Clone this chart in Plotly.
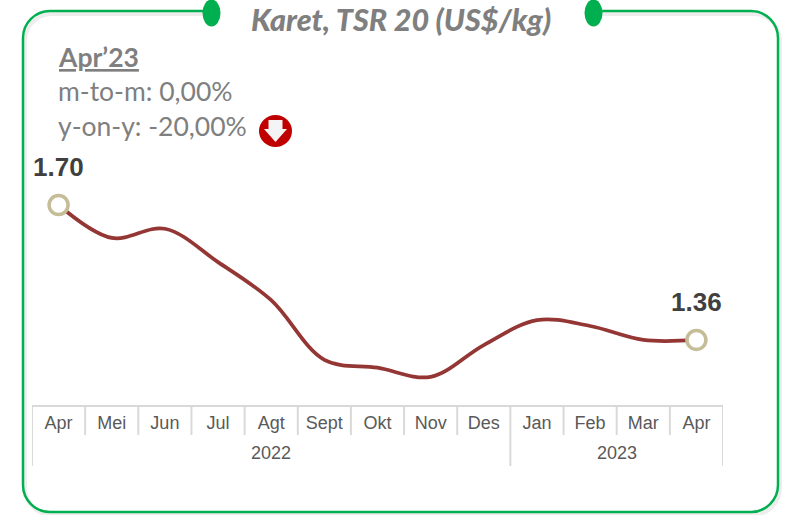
import plotly.graph_objects as go

months = ["Apr", "Mei", "Jun", "Jul", "Agt", "Sept", "Okt", "Nov", "Des", "Jan", "Feb", "Mar", "Apr"]
year_labels = ["2022", "2023"]
year_counts = [9, 4]
prices = [1.70, 1.617, 1.64, 1.556, 1.46, 1.31, 1.29, 1.267, 1.347, 1.41, 1.395, 1.36, 1.36]
title_text = "Karet, TSR 20 (US$/kg)"
note_lines = ["Apr’23", "m-to-m: 0,00%", "y-on-y: -20,00%"]

W, H = 790, 515
L, R, T, B = 32, 67, 100, 110
GREEN = "#00b050"
GREY = "#7f7f7f"
AXIS = "#d9d9d9"


def px(x):
    return (x - L) / (W - L - R)


def py(y):
    return (H - B - y) / (H - T - B)


def pt(x, y):
    return f"{px(x):.5f},{py(y):.5f}"


def border_path(dx=0, dy=0):
    x0, x1, y0, y1, r = 23 + dx, 778 + dx, 11 + dy, 512 + dy, 27
    k = r * 0.45
    return (
        f"M{pt(211, y0)} L{pt(x0 + r, y0)} "
        f"C{pt(x0 + k, y0)} {pt(x0, y0 + k)} {pt(x0, y0 + r)} "
        f"L{pt(x0, y1 - r)} C{pt(x0, y1 - k)} {pt(x0 + k, y1)} {pt(x0 + r, y1)} "
        f"L{pt(x1 - r, y1)} C{pt(x1 - k, y1)} {pt(x1, y1 - k)} {pt(x1, y1 - r)} "
        f"L{pt(x1, y0 + r)} C{pt(x1, y0 + k)} {pt(x1 - k, y0)} {pt(x1 - r, y0)} "
        f"L{pt(593, y0)}"
    )


def ellipse(cx, cy, rx, ry, color):
    return dict(type="circle", xref="paper", yref="paper", x0=px(cx - rx), x1=px(cx + rx),
                y0=py(cy + ry), y1=py(cy - ry), fillcolor=color, line=dict(width=0), layer="above")


arrow = [(268.5, 120), (282.5, 120), (282.5, 129), (287, 129), (275.5, 142), (264, 129), (268.5, 129)]
arrow_path = "M" + " L".join(pt(x, y) for x, y in arrow) + " Z"

shapes = [
    dict(type="path", xref="paper", yref="paper", path=border_path(2, 3),
         line=dict(color="rgba(0,0,0,0.07)", width=4), layer="below"),
    dict(type="path", xref="paper", yref="paper", path=border_path(),
         line=dict(color=GREEN, width=2.5), layer="above"),
    ellipse(211.5, 13, 9, 13.5, GREEN),
    ellipse(593.5, 13, 9, 13.5, GREEN),
    ellipse(275.5, 131, 16.5, 16, "#c00000"),
    dict(type="path", xref="paper", yref="paper", path=arrow_path, fillcolor="#f4f4f4",
         line=dict(width=0), layer="above"),
]

n = len(prices)
xs = list(range(n))

# category separators and year spans
year_edges = [0]
for c in year_counts:
    year_edges.append(year_edges[-1] + c)
for i in range(n + 1):
    bottom = 466 if i in year_edges else 435
    shapes.append(dict(type="line", xref="x", yref="paper", x0=i - 0.5, x1=i - 0.5,
                       y0=py(405), y1=py(bottom), line=dict(color=AXIS, width=2), layer="above"))

sizes = [19 if i in (0, n - 1) else 0 for i in range(n)]
fig = go.Figure(go.Scatter(
    x=xs, y=prices, mode="lines+markers",
    line=dict(color="#943634", width=3.7, shape="spline", smoothing=1),
    marker=dict(size=sizes, color="white", opacity=1, line=dict(color="#c4bd97", width=3.5)),
    hoverinfo="skip", cliponaxis=False,
))

annotations = [
    dict(x=i, y=prices[i], xref="x", yref="y", text=f"<b>{prices[i]:.2f}</b>", showarrow=False,
         yshift=38, font=dict(family="Liberation Sans", size=26, color="#404040"),
         xanchor="center", yanchor="middle")
    for i in (0, n - 1)
]
for label, a, b in zip(year_labels, year_edges[:-1], year_edges[1:]):
    annotations.append(dict(x=(a + b - 1) / 2, y=py(453), xref="x", yref="paper", text=label,
                            showarrow=False, font=dict(family="Liberation Sans", size=18, color="#595959"),
                            xanchor="center", yanchor="middle"))
annotations.append(dict(x=px(401.5), y=py(18.5), xref="paper", yref="paper", text=title_text,
                        showarrow=False,
                        font=dict(family="Lato", size=30.5, color=GREY, weight=900, style="italic"),
                        xanchor="center", yanchor="middle"))
for text, y, bold in zip(note_lines, (57, 91, 126), (True, False, False)):
    annotations.append(dict(x=px(59), y=py(y), xref="paper", yref="paper",
                            text=f"<b><u>{text}</u></b>" if bold else text, showarrow=False,
                            font=dict(family="Lato", size=26.5, color=GREY),
                            xanchor="left", yanchor="middle", xshift=-3))

fig.update_layout(
    width=W, height=H, margin=dict(l=L, r=R, t=T, b=B), showlegend=False,
    paper_bgcolor="white", plot_bgcolor="white", shapes=shapes, annotations=annotations,
    xaxis=dict(range=[-0.5, n - 0.5], tickmode="array", tickvals=xs, ticktext=months,
               showgrid=False, zeroline=False, showline=True, linecolor=AXIS, linewidth=2,
               ticks="", tickfont=dict(family="Liberation Sans", size=18, color="#595959"),
               fixedrange=True),
    yaxis=dict(visible=False, range=[1.196, 1.9645], fixedrange=True),
)
fig.write_html("out.html", config=dict(displayModeBar=False),
               post_script="document.body.style.margin='0';")
